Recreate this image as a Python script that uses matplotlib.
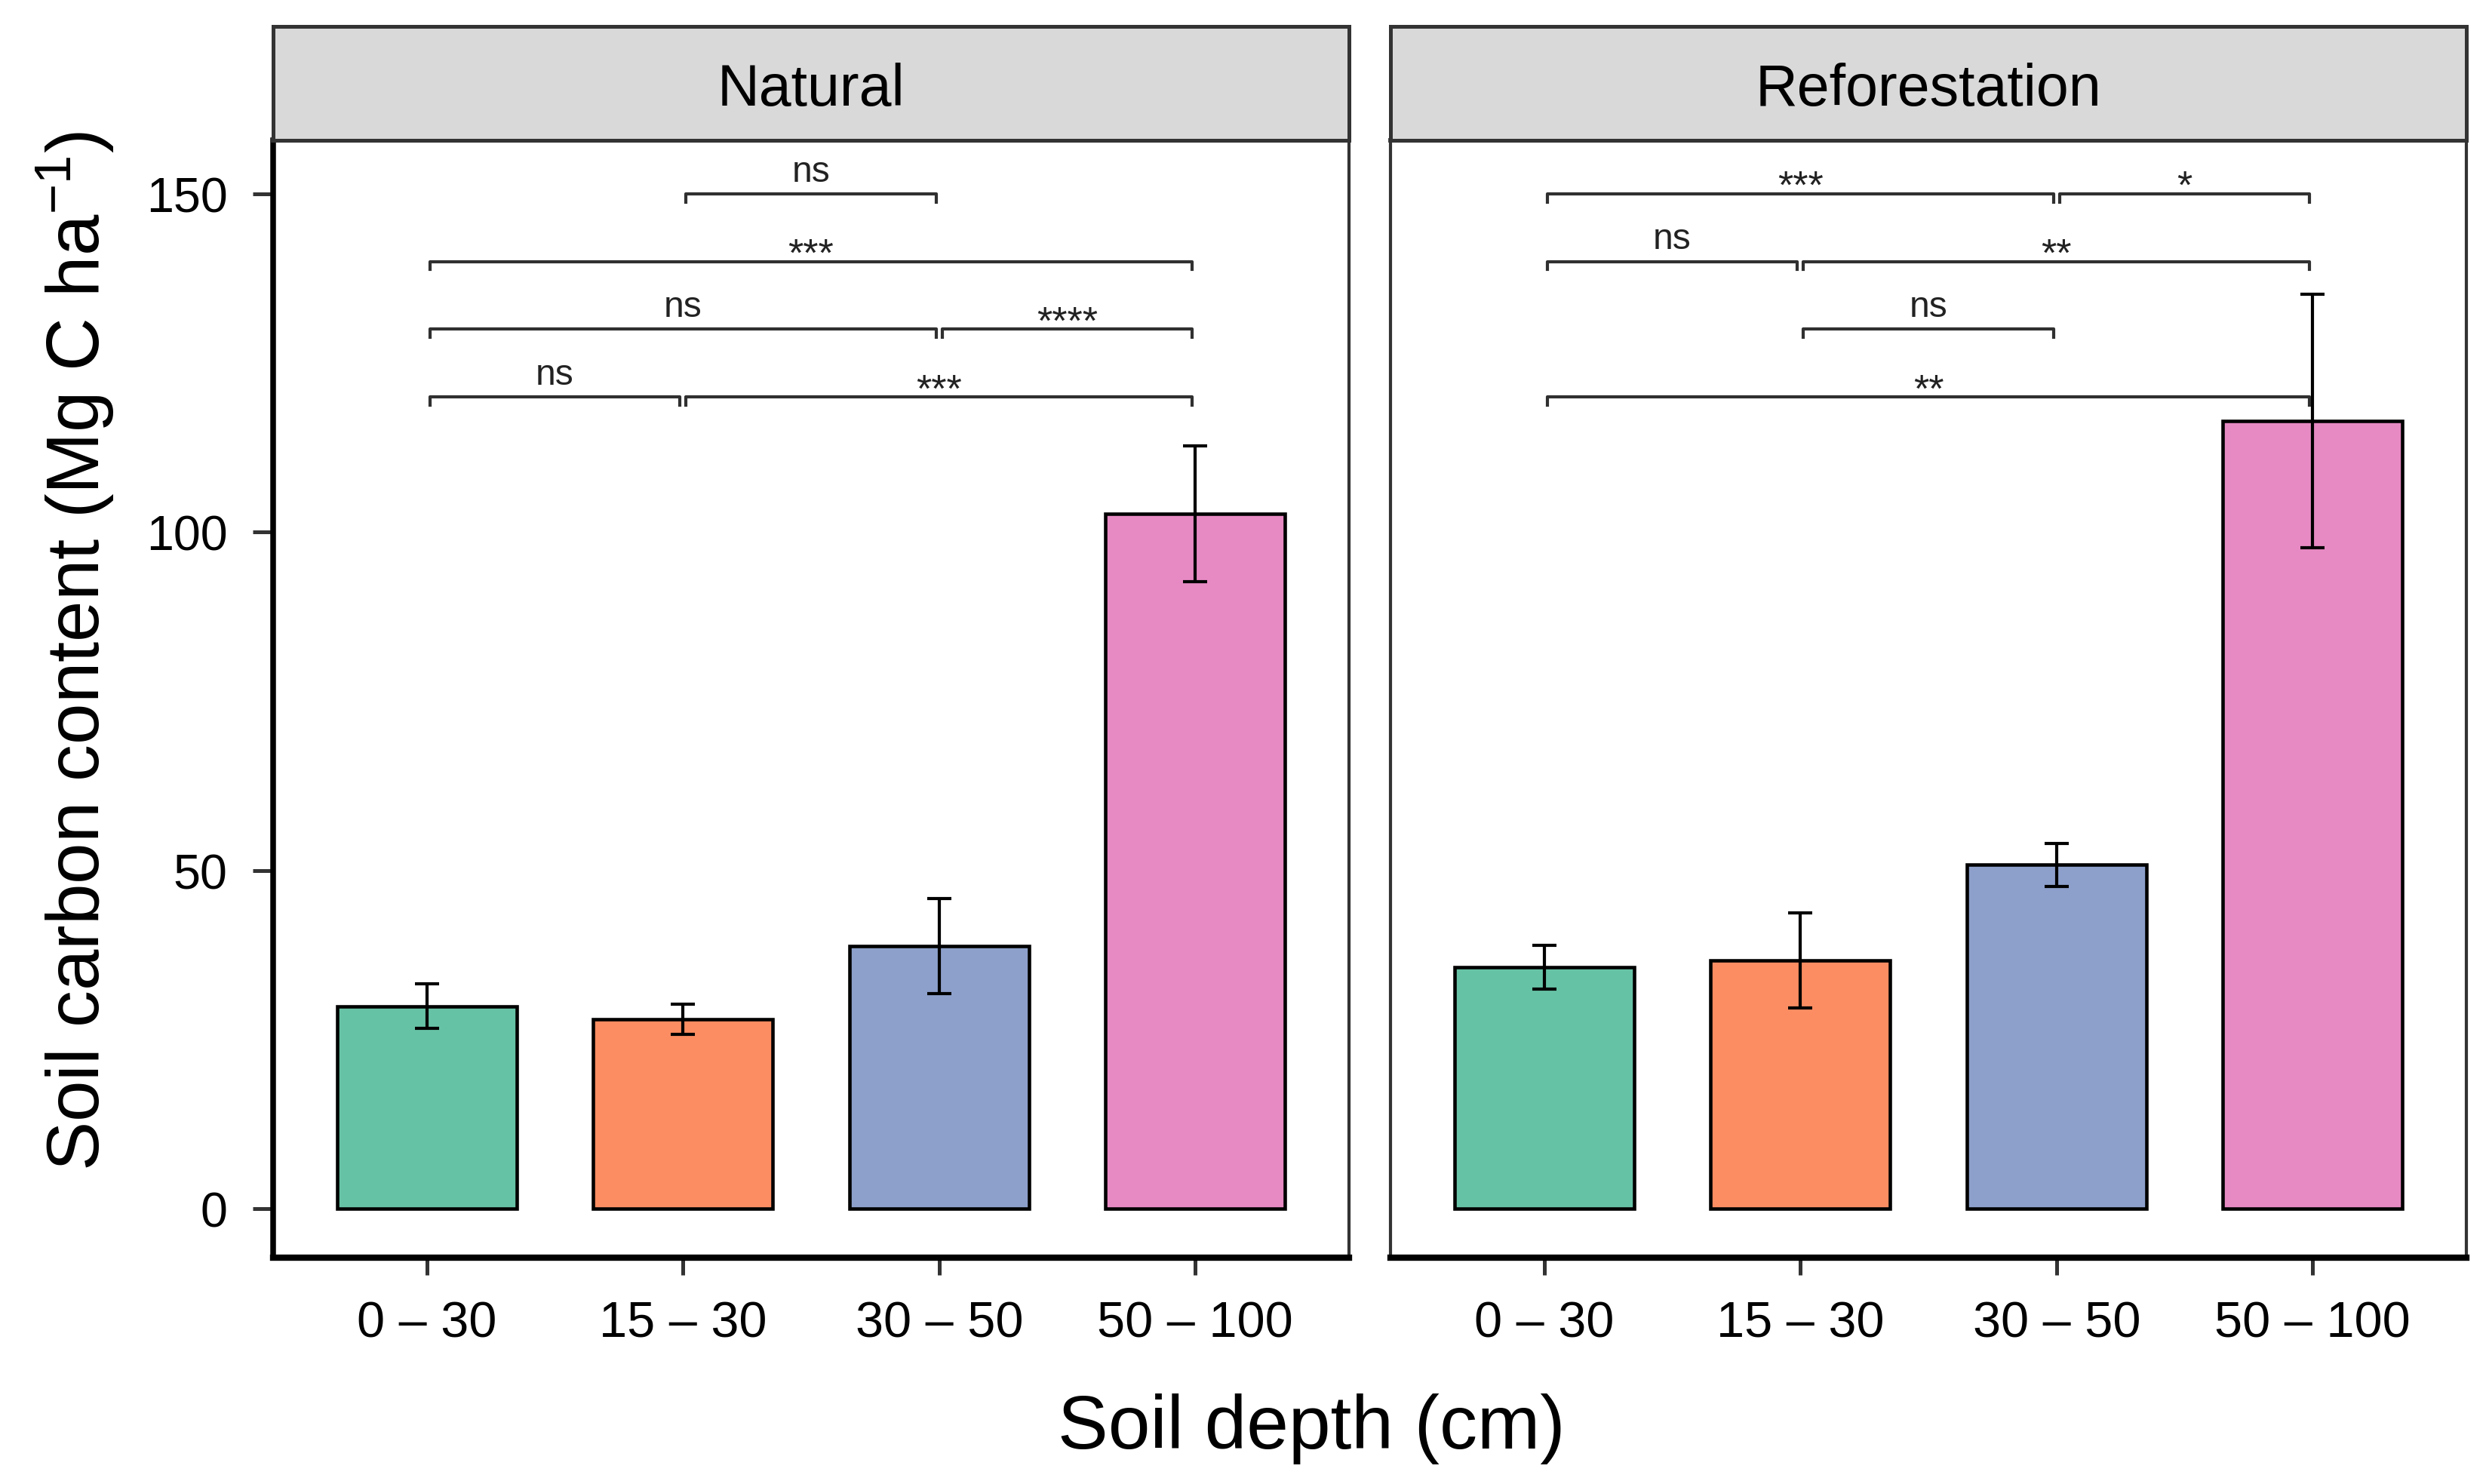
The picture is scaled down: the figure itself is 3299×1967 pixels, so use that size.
import numpy as np
import matplotlib
matplotlib.use("Agg")
import matplotlib.pyplot as plt

plt.rcParams['font.family'] = ['Liberation Sans', 'DejaVu Sans']
plt.rcParams['mathtext.fontset'] = 'custom'
plt.rcParams['mathtext.rm'] = 'Liberation Sans'
plt.rcParams['mathtext.it'] = 'Liberation Sans:italic'

# data
depths = ["0 – 30", "15 – 30", "30 – 50", "50 – 100"]
colores = ["#66C2A5", "#FC8D62", "#8DA0CB", "#E78AC3"]
paneles = ["Natural", "Reforestation"]

natural_media = [29.9, 28.0, 38.8, 102.7]
natural_err = [3.3, 2.2, 7.0, 10.0]
refor_media = [35.7, 36.7, 50.8, 116.4]
refor_err = [3.2, 7.0, 3.2, 18.7]

# (group1, group2, y, label)
natural_sig = [(2, 3, 150, "ns"), (1, 4, 140, "***"), (1, 3, 130, "ns"),
               (3, 4, 130, "****"), (1, 2, 120, "ns"), (2, 4, 120, "***")]
refor_sig = [(1, 3, 150, "***"), (3, 4, 150, "*"), (1, 2, 140, "ns"),
             (2, 4, 140, "**"), (2, 3, 130, "ns"), (1, 4, 120, "**")]

medias = [natural_media, refor_media]
errores = [natural_err, refor_err]
signif = [natural_sig, refor_sig]

fig = plt.figure(figsize=(3299 / 300, 1968 / 300), dpi=300)

lefts = [362 / 3299, 1843 / 3299]
ancho = 1426 / 3299
abajo = 1 - 1668 / 1968
alto = (1668 - 187) / 1968
alto_strip = (187 - 36) / 1968

x = np.arange(1, 5)
for i in range(2):
    ax = fig.add_axes([lefts[i], abajo, ancho, alto])
    ax.bar(x, medias[i], width=0.7, color=colores, edgecolor="black",
           linewidth=1.1, zorder=2)
    ax.errorbar(x, medias[i], yerr=errores[i], fmt="none", ecolor="black",
                elinewidth=1.0, capsize=3.8, capthick=1.0, zorder=3)

    # brackets de significancia
    for g1, g2, yb, lab in signif[i]:
        x1 = g1 + 0.012
        x2 = g2 - 0.012
        ax.plot([x1, x1, x2, x2], [yb - 1.2, yb, yb, yb - 1.2],
                color="#303030", linewidth=1.0, zorder=4)
        if lab == "ns":
            ax.text((g1 + g2) / 2, yb + 1.9, lab, ha="center",
                    va="baseline", fontsize=11.5, color="#222222")
        else:
            ax.text((g1 + g2) / 2, yb - 0.6, lab, ha="center",
                    va="baseline", fontsize=12.5, color="#222222")

    ax.set_xlim(0.4, 4.6)
    ax.set_ylim(-7.25, 157.9)
    ax.set_xticks(x)
    ax.set_xticklabels(depths, fontsize=16)
    ax.tick_params(axis="x", length=5.5, width=1.2, pad=8, color="#333333")
    if i == 0:
        ax.set_yticks([0, 50, 100, 150])
        ax.set_yticklabels(["0", "50", "100", "150"], fontsize=15.5)
        ax.tick_params(axis="y", length=6.5, width=1.2, pad=8,
                       color="#333333")
        ax.spines["left"].set_linewidth(1.8)
        ax.spines["left"].set_color("black")
    else:
        ax.set_yticks([])
        ax.spines["left"].set_linewidth(1.0)
        ax.spines["left"].set_color("#333333")
    ax.spines["bottom"].set_linewidth(2.0)
    ax.spines["bottom"].set_color("black")
    ax.spines["right"].set_linewidth(1.0)
    ax.spines["right"].set_color("#333333")
    ax.spines["top"].set_linewidth(1.4)
    ax.spines["top"].set_color("#333333")

    # strip del facet
    st = fig.add_axes([lefts[i], abajo + alto, ancho, alto_strip])
    st.set_facecolor("#D9D9D9")
    st.set_xticks([])
    st.set_yticks([])
    for s in st.spines.values():
        s.set_linewidth(1.2)
        s.set_color("#333333")
    st.text(0.5, 0.45, paneles[i], ha="center", va="center",
            fontsize=18.5, transform=st.transAxes)

fig.text(99 / 3299, 0.5615, "Soil carbon content (Mg C ha$^{-1}$)",
         rotation=90, ha="center", va="center", fontsize=23.5)
fig.text(1738 / 3299, 1 - 1894 / 1968, "Soil depth (cm)", ha="center",
         va="center", fontsize=24)

fig.savefig("out.png", dpi=300)
